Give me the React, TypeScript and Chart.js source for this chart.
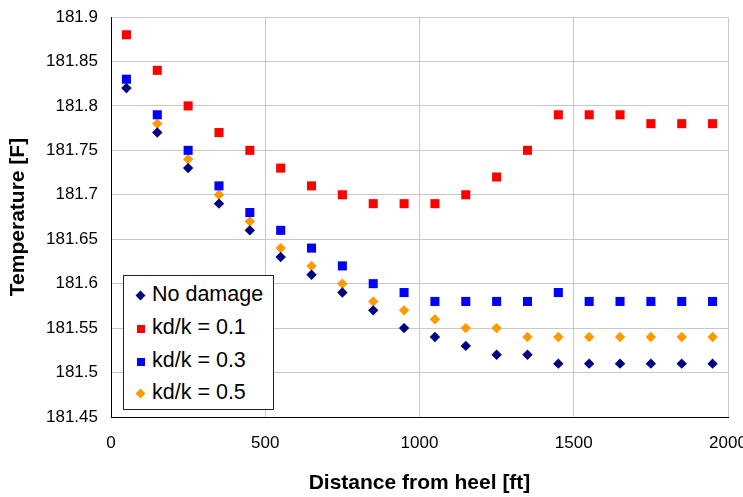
import React, { useEffect, useRef } from "react";
import { Chart, registerables } from "chart.js";

Chart.register(...registerables);

const distances = [50, 150, 250, 350, 450, 550, 650, 750, 850, 950, 1050, 1150, 1250, 1350, 1450, 1550, 1650, 1750, 1850, 1950];

const noDamage = [181.82, 181.77, 181.73, 181.69, 181.66, 181.63, 181.61, 181.59, 181.57, 181.55, 181.54, 181.53, 181.52, 181.52, 181.51, 181.51, 181.51, 181.51, 181.51, 181.51];
const kd01 = [181.88, 181.84, 181.80, 181.77, 181.75, 181.73, 181.71, 181.70, 181.69, 181.69, 181.69, 181.70, 181.72, 181.75, 181.79, 181.79, 181.79, 181.78, 181.78, 181.78];
const kd03 = [181.83, 181.79, 181.75, 181.71, 181.68, 181.66, 181.64, 181.62, 181.60, 181.59, 181.58, 181.58, 181.58, 181.58, 181.59, 181.58, 181.58, 181.58, 181.58, 181.58];
const kd05 = [181.82, 181.78, 181.74, 181.70, 181.67, 181.64, 181.62, 181.60, 181.58, 181.57, 181.56, 181.55, 181.55, 181.54, 181.54, 181.54, 181.54, 181.54, 181.54, 181.54];

const seriesNames = ["No damage", "kd/k = 0.1", "kd/k = 0.3", "kd/k = 0.5"];
const seriesColors = ["#000080", "#FF0000", "#0000FF", "#FF9900"];
const seriesStyles = ["rectRot", "rect", "rect", "rectRot"];
const seriesValues = [noDamage, kd01, kd03, kd05];

const xTitle = "Distance from heel [ft]";
const yTitle = "Temperature [F]";
const FONT = "'Liberation Sans', Arial, Helvetica, sans-serif";

export default function App() {
  const ref = useRef<HTMLCanvasElement | null>(null);

  useEffect(() => {
    if (!ref.current) return;
    const datasets = seriesValues.map((vals, i) => ({
      label: seriesNames[i],
      data: vals.map((v, j) => ({ x: distances[j], y: v })),
      backgroundColor: seriesColors[i],
      borderColor: seriesColors[i],
      borderWidth: 0,
      pointStyle: seriesStyles[i] as any,
      pointRadius: seriesStyles[i] === "rect" ? 6.4 : 5.2,
      showLine: false,
    }));
    const chart = new Chart(ref.current, {
      type: "scatter",
      data: { datasets },
      options: {
        animation: false,
        responsive: false,
        devicePixelRatio: 1,
        layout: { padding: { top: 17, right: 15, left: 0, bottom: 0 } },
        plugins: { legend: { display: false }, tooltip: { enabled: false } },
        scales: {
          x: {
            type: "linear",
            min: 0,
            max: 2000,
            ticks: {
              stepSize: 500,
              color: "#000",
              font: { family: FONT, size: 17 },
              padding: 16,
              maxRotation: 0,
              callback: (v: any) => String(Math.round(Number(v))),
            },
            grid: { color: "#c8c8c8", drawTicks: false },
            border: { color: "#000", width: 1 },
            title: { display: true, text: xTitle, color: "#000", font: { family: FONT, size: 21, weight: "bold" }, padding: { top: 0, bottom: 1 } },
            afterFit: (s: any) => { s.height = 80; s.paddingLeft = 0; s.paddingRight = 0; },
          },
          y: {
            type: "linear",
            min: 181.45,
            max: 181.9,
            ticks: {
              stepSize: 0.05,
              color: "#000",
              font: { family: FONT, size: 17 },
              padding: 13,
              callback: (v: any) => String(Math.round(Number(v) * 100) / 100),
            },
            grid: { color: "#c8c8c8", drawTicks: false },
            border: { color: "#000", width: 1 },
            title: { display: true, text: yTitle, color: "#000", font: { family: FONT, size: 21, weight: "bold" }, padding: { top: 6, bottom: 0 } },
            afterFit: (s: any) => { s.width = 111; s.paddingTop = 0; s.paddingBottom = 0; },
          },
        },
      },
    });
    return () => chart.destroy();
  }, []);

  const rowTops = [3, 36, 69, 101];

  return (
    <div style={{ position: "fixed", left: 0, top: 0, width: 743, height: 497, background: "#fff" }}>
      <canvas ref={ref} width={743} height={497} style={{ position: "absolute", left: 0, top: 0 }} />
      <div
        style={{
          position: "absolute",
          left: 123,
          top: 275,
          width: 151,
          height: 135,
          boxSizing: "border-box",
          border: "1px solid #222",
          background: "#fff",
          fontFamily: FONT,
          fontSize: 21.5,
          color: "#000",
        }}
      >
        {seriesNames.map((name, i) => {
          const diamond = seriesStyles[i] === "rectRot";
          return (
            <div key={name} style={{ position: "absolute", left: 0, top: rowTops[i], height: 33, width: "100%" }}>
              <span
                style={{
                  position: "absolute",
                  left: 13,
                  top: diamond ? 12.5 : 13,
                  width: diamond ? 7 : 8,
                  height: diamond ? 7 : 8,
                  background: seriesColors[i],
                  transform: diamond ? "rotate(45deg)" : "none",
                }}
              />
              <span style={{ position: "absolute", left: 28, top: 3, lineHeight: "25px", whiteSpace: "nowrap" }}>{name}</span>
            </div>
          );
        })}
      </div>
    </div>
  );
}
